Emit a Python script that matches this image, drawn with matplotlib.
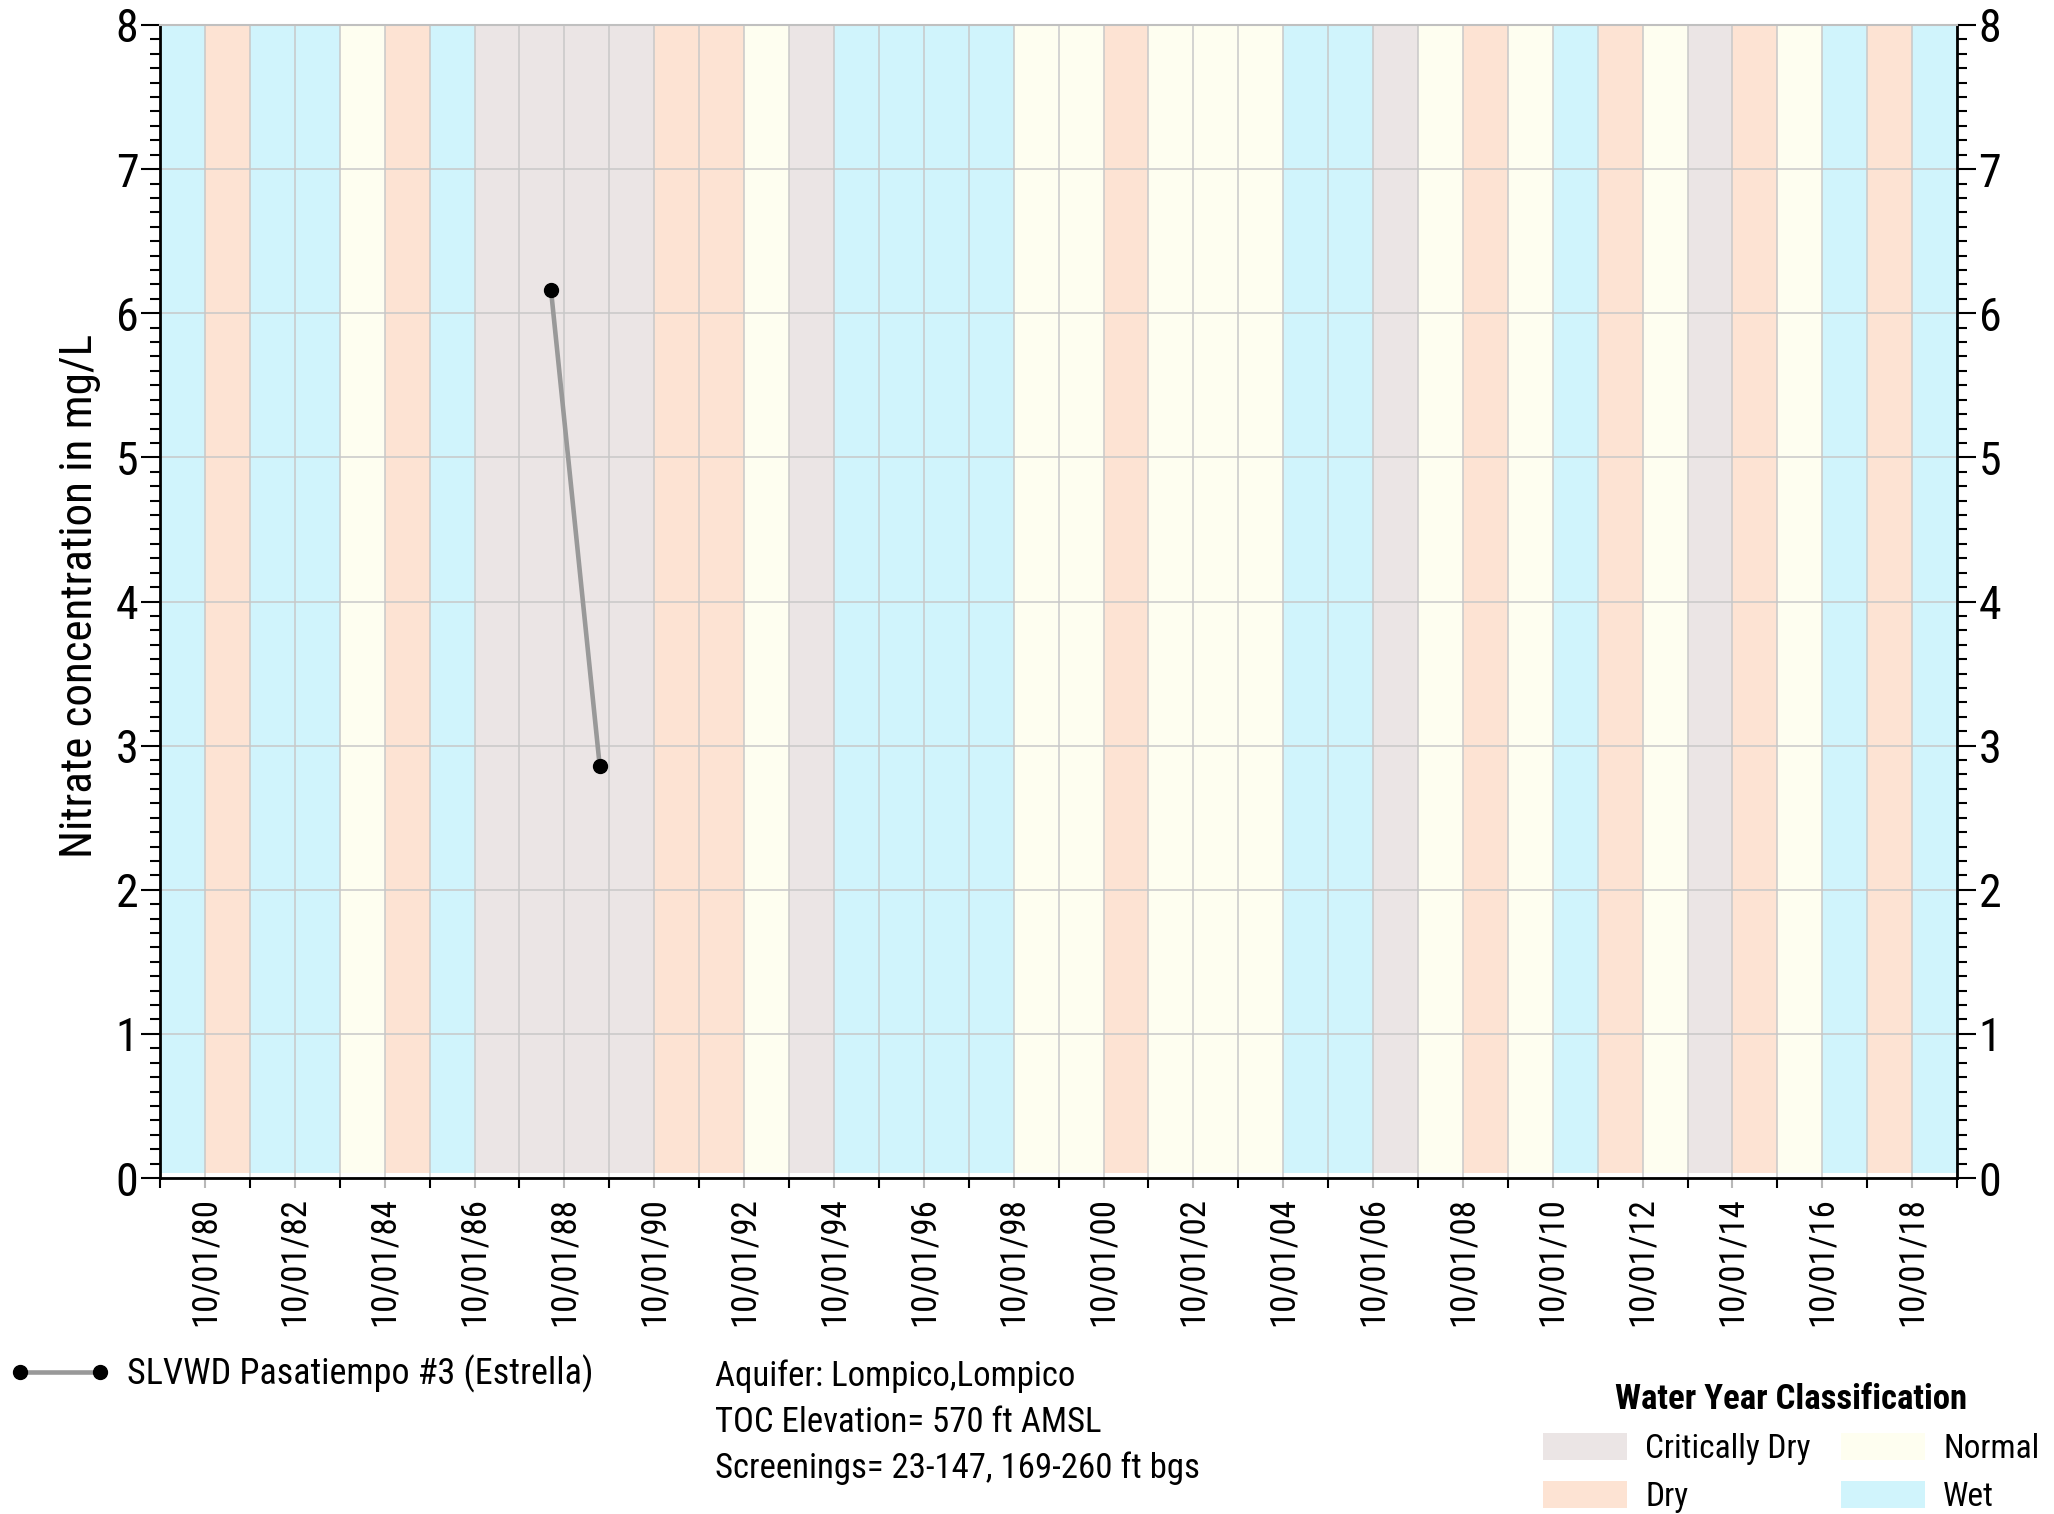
import datetime as dt

import matplotlib
matplotlib.use("Agg")
import matplotlib.pyplot as plt
import matplotlib.dates as mdates
from matplotlib.lines import Line2D
from matplotlib.patches import Patch
from matplotlib.ticker import MultipleLocator

# water years start on 10/01 of the listed year
water_years = list(range(1979, 2019))
year_class = [
    "Wet", "Dry", "Wet", "Wet", "Normal", "Dry", "Wet",
    "Critically Dry", "Critically Dry", "Critically Dry", "Critically Dry",
    "Dry", "Dry", "Normal", "Critically Dry", "Wet", "Wet", "Wet", "Wet",
    "Normal", "Normal", "Dry", "Normal", "Normal", "Normal", "Wet", "Wet",
    "Critically Dry", "Normal", "Dry", "Normal", "Wet", "Dry", "Normal",
    "Critically Dry", "Dry", "Normal", "Wet", "Dry", "Wet",
]
class_names = ["Critically Dry", "Dry", "Normal", "Wet"]
class_colors = {
    "Critically Dry": "#ebe5e5",
    "Dry": "#fde3d3",
    "Normal": "#fefef0",
    "Wet": "#d0f4fc",
}

# nitrate samples
sample_dates = [dt.datetime(1988, 6, 14), dt.datetime(1989, 7, 15)]
nitrate = [6.16, 2.86]

well_name = "SLVWD Pasatiempo #3 (Estrella)"
well_info = [
    "Aquifer: Lompico,Lompico",
    "TOC Elevation= 570 ft AMSL",
    "Screenings= 23-147, 169-260 ft bgs",
]

# condensed font, first one found is used
plt.rcParams['font.family'] = ['Liberation Sans Narrow', 'Arial Narrow', 'Roboto Condensed',
                               'Archivo Narrow', 'PT Sans Narrow', 'DejaVu Sans']

W, H = 2054, 1514
fig = plt.figure(figsize=(W / 100, H / 100), dpi=100)
ax = fig.add_axes([160 / W, 1 - 1178 / H, (1957 - 160) / W, (1178 - 25) / H])

# water year bands
for wy, cls in zip(water_years, year_class):
    ax.axvspan(dt.datetime(wy, 10, 1), dt.datetime(wy + 1, 10, 1), ymin=0.004, ymax=1,
               color=class_colors[cls], lw=0, zorder=0.1)

# data
ax.plot(sample_dates, nitrate, color="#999999", lw=3.3, marker="o", ms=10,
        mfc="black", mec="black", zorder=3, clip_on=False)

ax.set_xlim(dt.datetime(water_years[0], 10, 1), dt.datetime(water_years[-1] + 1, 10, 1))
ax.set_ylim(0, 8)
ax.set_axisbelow(True)

ax.xaxis.set_major_locator(mdates.YearLocator(2, month=10, day=1))
ax.xaxis.set_minor_locator(mdates.YearLocator(1, month=10, day=1))
ax.xaxis.set_major_formatter(mdates.DateFormatter("%m/%d/%y"))
ax.yaxis.set_major_locator(MultipleLocator(1))
ax.yaxis.set_minor_locator(MultipleLocator(0.1))

ax.xaxis.grid(True, which="both", color="#c8c8c8", lw=1.1)
ax.yaxis.grid(True, which="major", color="#c8c8c8", lw=1.1)

ax.tick_params(axis="y", which="both", direction="out", left=True, right=True,
               labelleft=True, labelright=True, width=1.5, labelsize=33, pad=2)
ax.tick_params(axis="y", which="major", length=13.5)
ax.tick_params(axis="y", which="minor", length=7)
ax.tick_params(axis="x", which="major", length=7.5, width=1.5, color="#b8b8b8",
               labelsize=25, labelrotation=90, pad=6)
ax.tick_params(axis="x", which="minor", length=7.5, width=1.5, color="black")

for side in ["left", "right", "bottom"]:
    ax.spines[side].set_linewidth(2)
ax.spines["top"].set_color("#c0c0c0")
ax.spines["top"].set_linewidth(1.5)

ax.set_ylabel("Nitrate concentration in mg/L", fontsize=32.5)
ax.yaxis.set_label_coords(-0.0328, 0.505)

# series legend
series_handle = Line2D([], [], color="#999999", lw=3.3, marker="o", ms=10,
                       mfc="black", mec="black")
fig.legend([series_handle], [well_name], loc="center left",
           bbox_to_anchor=(9 / W, 1 - 1374 / H), frameon=False, fontsize=26,
           handlelength=2.83, handletextpad=0.45, borderpad=0, borderaxespad=0,
           numpoints=2)

# well info
for i, line in enumerate(well_info):
    fig.text(715 / W, 1 - (1376 + 46 * i) / H, line, fontsize=25, va="center", ha="left")

# water year classification legend
patches = [Patch(facecolor=class_colors[c], edgecolor="none", label=c) for c in class_names]
leg = fig.legend(handles=patches, ncol=2, loc="upper left",
                 bbox_to_anchor=(1543 / W, 1 - 1383 / H), frameon=False, fontsize=24,
                 title="Water Year Classification",
                 title_fontproperties={"weight": "bold", "size": 25},
                 handlelength=2.52, handleheight=0.87, handletextpad=0.55,
                 columnspacing=0.9, labelspacing=0.5, borderpad=0, borderaxespad=0)

fig.savefig("out.png", dpi=100)
